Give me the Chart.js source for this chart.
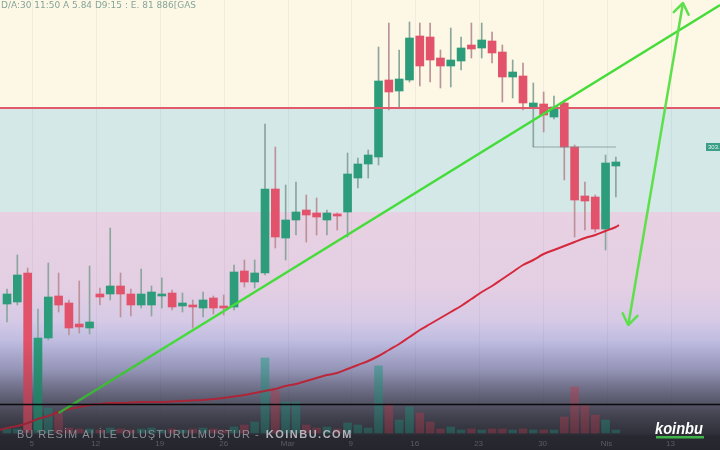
<!DOCTYPE html>
<html><head><meta charset="utf-8">
<script src="https://cdn.jsdelivr.net/npm/chart.js@4.4.1/dist/chart.umd.min.js"></script>
<style>html,body{margin:0;padding:0;background:#fcf8e5;}#wrap{width:720px;height:450px;position:relative;}</style>
</head><body><div id="wrap"><canvas id="c"></canvas></div>
<script>
// ---- data (price units) ----
const opens  = [146,148,177,20,112,154,147,126,122,156, 156,164,156,145,145,154,157,144,145,142, 152,144,143,179,168,177,261,212,230,240, 237,230,236,238,272,286,293,370,359,370, 414,413,392,384,389,405,402,409,398,373, 374,342,346,333,347,303,254,253,221,284];
const highs  = [161,195,182,141,187,177,150,169,184,162, 222,177,161,181,164,172,160,157,150,158, 154,155,185,190,190,326,303,265,268,255, 252,240,237,297,292,300,403,427,400,428, 427,427,400,422,413,427,427,418,405,390, 387,367,358,354,350,305,268,255,295,293];
const lows   = [128,145,18,18,110,138,115,117,116,145, 150,133,134,142,134,142,140,138,122,133, 136,135,140,163,162,175,202,190,215,208, 215,215,220,213,262,272,285,340,343,368, 364,368,362,363,380,392,392,387,348,352, 340,303,318,331,270,213,220,218,200,253];
const closes = [156,175,20,112,153,145,122,123,128,153, 164,156,145,156,158,156,143,147,143,150, 142,142,178,168,177,261,213,230,238,235, 233,237,234,276,286,295,369,358,371,412, 384,390,384,390,402,401,410,397,373,378, 347,347,335,343,303,250,249,221,287,288];
const volumes = [4,4,20,15,25,21,5,4,4,3, 5,4,3,4,5,3,4,3,4,5, 4,3,6,8,11,75,42,31,31,8, 5,6,4,10,8,5,67,29,13,26, 20,11,4,6,3,4,3,4,4,3, 4,3,3,3,16,46,28,18,13,3];
const maIdx = [-0.7,0,1,2,3,4,5,6,7,8,9,10,11,12,13,14,15,16,17,18,19,20,21,22,23,24,25,26,27,28,29,30,31,32,33,34,35,36,37,38,39,40,41,42,43,44,45,46,47,48,49,50,51,52,53,54,55,56,57,58,59,59.3];
const maValues = [20,22,24,27,31,34,38,41,43,45,46,47,47,47.5,48,48,48,48.5,49,49.5,50,51,52,53.5,55,57,59,61,64,66,69,72,75,77,81,85,89,94,100,106,113,120,126,132,138,144,151,158,164,171,178,185,190,196,200,204,208,212,215,219,223,225];
const trendIdx = [5, 69.1];
const trendVal = [37, 445];
const arrowIdx = [60.2, 65.5];
const arrowVal = [125, 447];
const resistance = 342;      // red level / top of teal zone
const zoneLow = 238;         // teal / pink boundary
const baseLevel = 46;        // black line
const lastPrice = 303;
const lastRange = [51, 59];
const tickIdx = [2.4, 8.6, 14.8, 21, 27.2, 33.3, 39.5, 45.7, 51.9, 58.1, 64.3];
const tickLabels = ['5','12','19','26','Mar','9','16','23','30','Nis','13'];
const headerText = 'D/A:30 11:50 A 5.84 D9:15 : E. 81 886[GAS';
const xMin = -0.68, xMax = 69.09;

const UP = '#2c9c7b', DOWN = '#e2526a';
const up = opens.map((o,i)=>closes[i]>=o);

const bgPlugin = {
  id:'bg',
  beforeDatasetsDraw(chart){
    const ctx = chart.ctx, y = chart.scales.y, x = chart.scales.x;
    const W = chart.width, H = chart.height;
    const yTop = y.getPixelForValue(resistance), yMid = y.getPixelForValue(zoneLow);
    ctx.save();
    ctx.fillStyle = '#fcf8e5'; ctx.fillRect(0,0,W,yTop);
    ctx.fillStyle = '#d4e8e8'; ctx.fillRect(0,yTop,W,yMid-yTop);
    const g = ctx.createLinearGradient(0,yMid,0,H);
    const st = (py,c)=>g.addColorStop(Math.min(1,Math.max(0,(py-yMid)/(H-yMid))),c);
    st(yMid,'#e8d1e2'); st(290,'#e3cee3'); st(320,'#d6cae6'); st(345,'#bbbadf');
    st(370,'#a4a4ca'); st(395,'#76768f'); st(415,'#555563'); st(433,'#3c3c45'); st(436,'#2f2f36'); st(450,'#2b2b31');
    ctx.fillStyle = g; ctx.fillRect(0,yMid,W,H-yMid);
    // faint grid
    ctx.strokeStyle = 'rgba(60,70,80,0.06)'; ctx.lineWidth = 1;
    tickIdx.forEach(t=>{const px=Math.round(x.getPixelForValue(t))+0.5; ctx.beginPath(); ctx.moveTo(px,0); ctx.lineTo(px,430); ctx.stroke();});
    ctx.restore();
  },
  afterDatasetsDraw(chart){
    const ctx = chart.ctx, y = chart.scales.y, x = chart.scales.x;
    const W = chart.width, H = chart.height;
    ctx.save();
    const g = ctx.createLinearGradient(0,340,0,H);
    g.addColorStop(0,'rgba(30,30,42,0)'); g.addColorStop(0.5,'rgba(30,30,42,0.22)'); g.addColorStop(1,'rgba(30,30,42,0.45)');
    ctx.fillStyle = g; ctx.fillRect(0,340,W,H-340);
    // base line on top
    const yb = Math.round(y.getPixelForValue(baseLevel))+0.5;
    ctx.strokeStyle = '#0b0b0e'; ctx.lineWidth = 1.5; ctx.beginPath(); ctx.moveTo(0,yb); ctx.lineTo(W,yb); ctx.stroke();
    // arrowheads
    const meta = chart.getDatasetMeta(7);
    const p0 = meta.data[0], p1 = meta.data[1];
    const head = (a,b)=>{
      const ang = Math.atan2(b.y-a.y,b.x-a.x), L = 13, sp = 0.62;
      ctx.beginPath();
      ctx.moveTo(b.x - L*Math.cos(ang-sp), b.y - L*Math.sin(ang-sp));
      ctx.lineTo(b.x,b.y);
      ctx.lineTo(b.x - L*Math.cos(ang+sp), b.y - L*Math.sin(ang+sp));
      ctx.stroke();
    };
    ctx.strokeStyle = '#5ee04c'; ctx.lineWidth = 2.5; ctx.lineCap='round'; ctx.lineJoin='round';
    head(p0,p1); head(p1,p0);
    // price tag
    const yl = y.getPixelForValue(lastPrice);
    ctx.fillStyle = '#3a9e88'; ctx.fillRect(706, yl-4, 16, 8);
    ctx.fillStyle = '#e8f5f0'; ctx.font = '6px "Liberation Sans"'; ctx.textBaseline='middle';
    ctx.fillText(lastPrice.toFixed(1), 708, yl);
    ctx.restore();
  },
  afterDraw(chart){
    const ctx = chart.ctx, x = chart.scales.x;
    ctx.save();
    // header text
    ctx.font = '9px "DejaVu Sans"'; ctx.fillStyle = '#86a49a'; ctx.textBaseline='middle';
    const hw = ctx.measureText(headerText).width;
    ctx.translate(1,6); ctx.scale(195/hw,1); ctx.fillText(headerText,0,0);
    ctx.setTransform(1,0,0,1,0,0);
    // tick labels
    ctx.font = '8px "Liberation Sans"'; ctx.fillStyle = '#5c5c68'; ctx.textAlign='center'; ctx.textBaseline='middle';
    tickIdx.forEach((t,i)=>ctx.fillText(tickLabels[i], x.getPixelForValue(t), 444));
    // watermark
    ctx.textAlign='left'; ctx.textBaseline='alphabetic';
    ctx.letterSpacing = '1px';
    ctx.font = '11px "Liberation Sans"'; ctx.fillStyle = '#8d8d97';
    const t1 = 'BU RESİM AI İLE OLUŞTURULMUŞTUR - ';
    ctx.fillText(t1, 17, 438);
    const w1 = ctx.measureText(t1).width;
    ctx.letterSpacing = '1.5px';
    ctx.font = 'bold 11px "Liberation Sans"'; ctx.fillStyle = '#b3b3bb';
    ctx.fillText('KOINBU.COM', 17 + w1 + 2, 438);
    ctx.letterSpacing = '0px';
    // logo
    ctx.font = 'italic bold 16px "Liberation Sans"';
    const lw = ctx.measureText('koinbu').width;
    ctx.fillStyle = '#ffffff';
    ctx.save(); ctx.translate(655,434); ctx.scale(48/lw,1); ctx.fillText('koinbu',0,0); ctx.restore();
    ctx.fillStyle = '#3fb24a'; ctx.fillRect(656,436,48,2.5);
    ctx.restore();
  }
};

new Chart(document.getElementById('c'), {
  type:'bar',
  data:{ datasets:[
    {type:'bar', label:'Hacim', yAxisID:'yv', data: volumes.map((v,i)=>({x:i,y:v})),
     backgroundColor: up.map(u=>u?'rgba(40,165,140,0.55)':'rgba(215,72,92,0.5)'), barThickness:8, grouped:false, order:10},
    {type:'bar', label:'Fitil', data: highs.map((h,i)=>({x:i,y:[lows[i],h]})),
     backgroundColor: up.map(u=>u?'#8aa69d':'#bd9199'), barThickness:1, grouped:false, order:6},
    {type:'bar', label:'Gövde', data: opens.map((o,i)=>({x:i,y:[o,closes[i]]})),
     backgroundColor: up.map(u=>u?UP:DOWN), barThickness:8, minBarLength:2, grouped:false, order:5},
    {type:'line', label:'MA', data: maIdx.map((v,i)=>({x:v,y:maValues[i]})), borderColor:'#d6283c', borderWidth:2, pointRadius:0, tension:0.35, order:4},
    {type:'line', label:'Direnç', data:[{x:xMin,y:resistance},{x:xMax,y:resistance}], borderColor:'#e05a6b', borderWidth:2, pointRadius:0, order:3},
    {type:'line', label:'Son fiyat', data:[{x:lastRange[0],y:lastPrice},{x:lastRange[1],y:lastPrice}], borderColor:'rgba(120,140,140,0.7)', borderWidth:1, pointRadius:0, order:3},
    {type:'line', label:'Trend', data: trendIdx.map((v,i)=>({x:v,y:trendVal[i]})), borderColor:'#45dc3a', borderWidth:2.5, pointRadius:0, order:2},
    {type:'line', label:'Ok', data: arrowIdx.map((v,i)=>({x:v,y:arrowVal[i]})), borderColor:'#5ee04c', borderWidth:2.5, pointRadius:0, order:1}
  ]},
  options:{
    responsive:true, maintainAspectRatio:false, animation:false,
    layout:{padding:0},
    plugins:{legend:{display:false}, tooltip:{enabled:false}},
    scales:{
      x:{type:'linear', min:xMin, max:xMax, offset:false, display:false},
      y:{type:'linear', min:0, max:450, display:false},
      yv:{type:'linear', min:-17, max:433, display:false}
    }
  },
  plugins:[bgPlugin]
});
</script></body></html>
